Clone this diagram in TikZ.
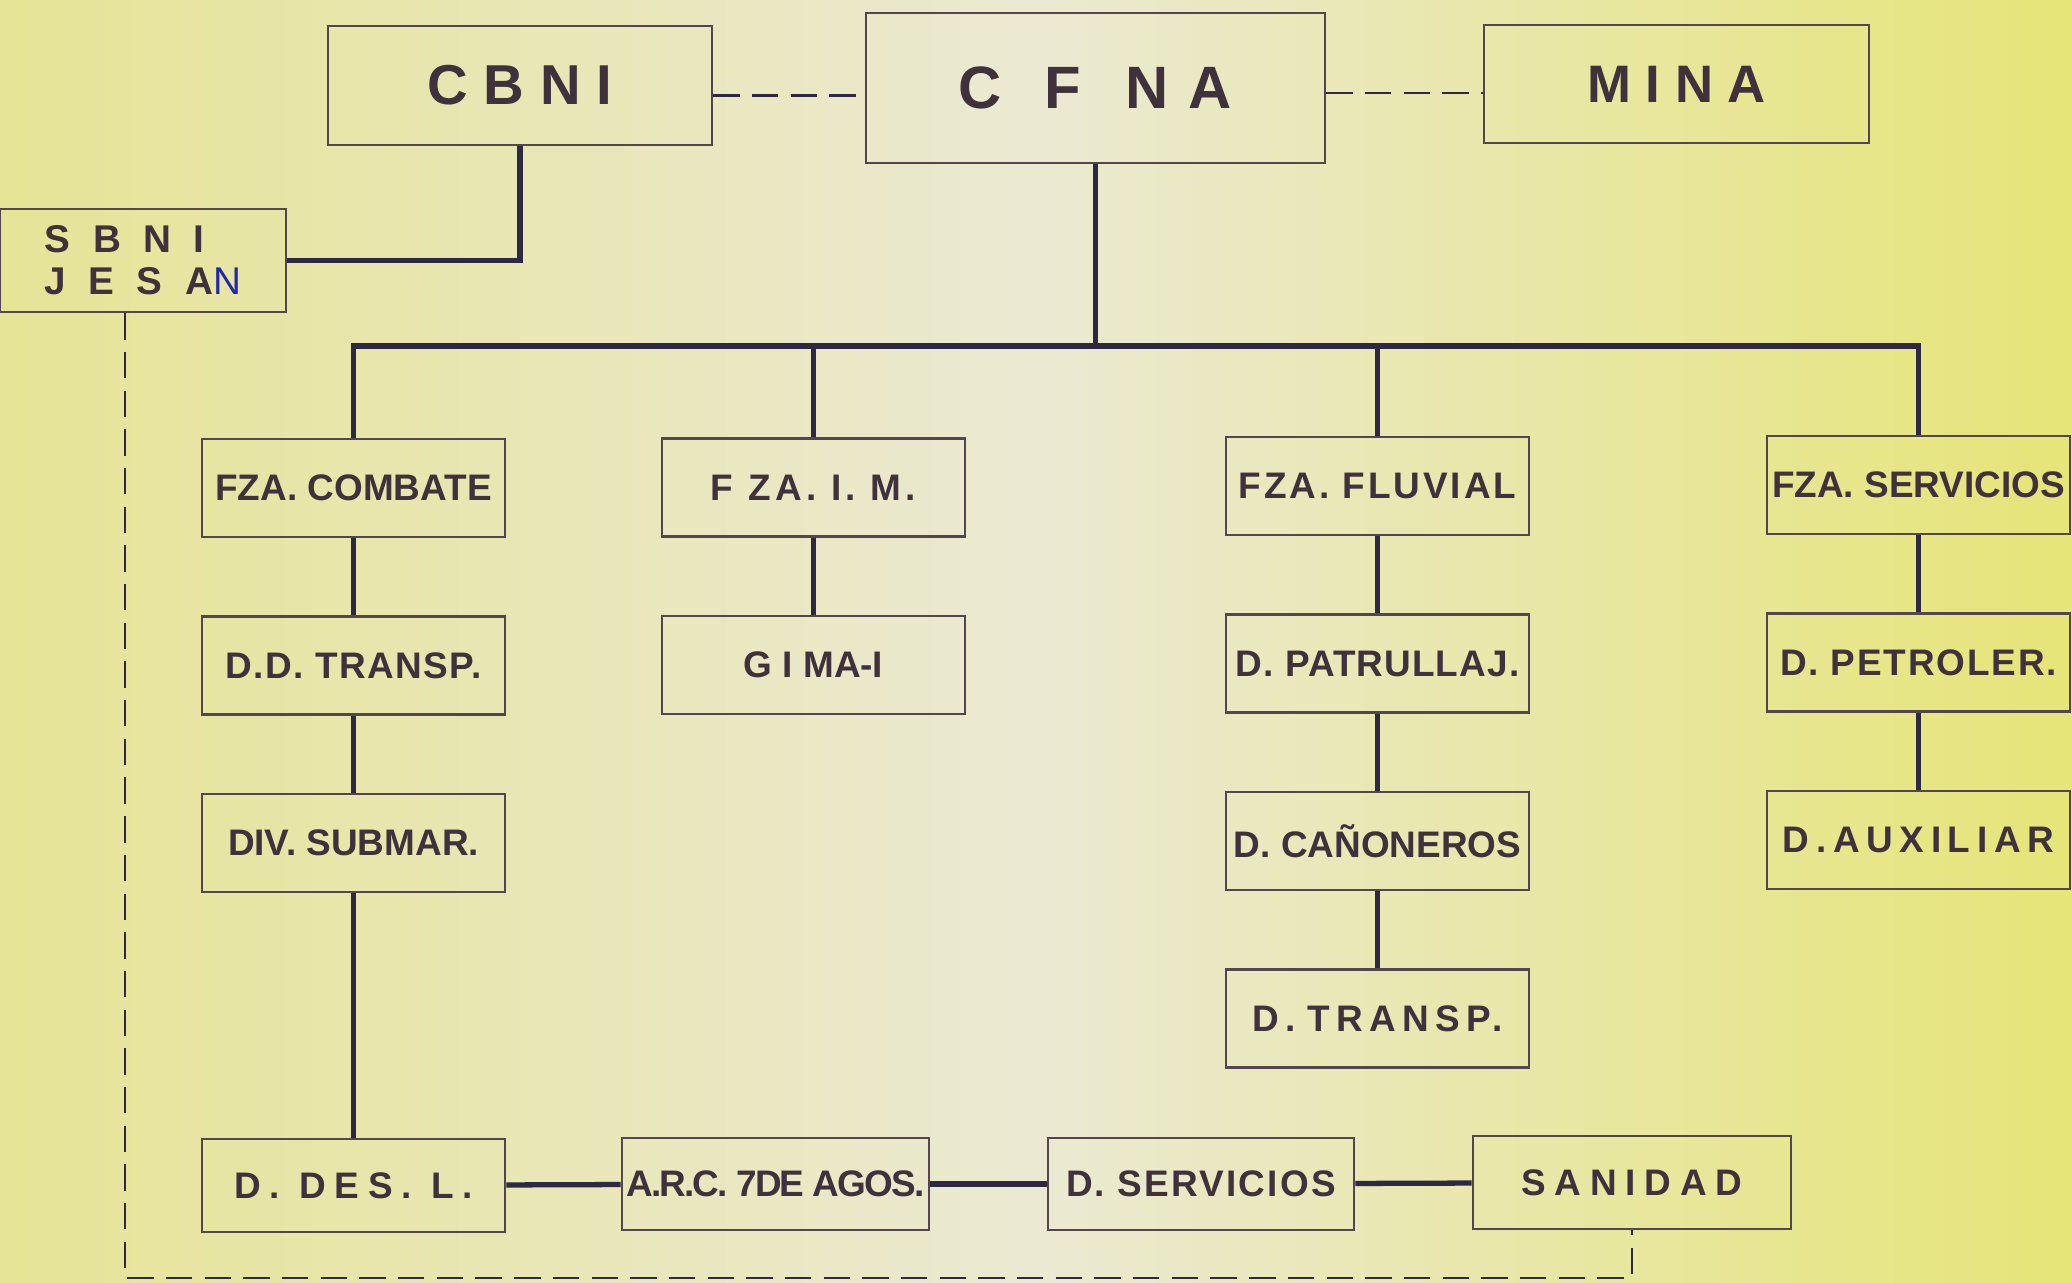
\documentclass[tikz,border=0pt]{standalone}
\usepackage{fontspec}
\setmainfont{Liberation Sans}
\usetikzlibrary{positioning}
\usepackage{xcolor}
\definecolor{paperleft}{RGB}{230,228,150}
\definecolor{papermid}{RGB}{235,233,210}
\definecolor{paperright}{RGB}{230,229,120}
\definecolor{inkline}{RGB}{46,40,66}
\definecolor{inkbox}{RGB}{84,70,78}
\definecolor{inktext}{RGB}{64,50,60}
\definecolor{penblue}{RGB}{38,40,172}
\tikzset{
    orgbox/.style={rectangle, draw=inkbox, line width=0.7pt, inner sep=0pt,
        minimum width=3.03cm, minimum height=0.98cm, align=center, text=inktext,
        font=\bfseries\fontsize{10.5}{12}\selectfont},
    headbox/.style={orgbox, font=\bfseries\fontsize{16}{18}\selectfont},
    link/.style={draw=inkline, line width=1.5pt},
    dashlink/.style={draw=inkline, line width=0.6pt, dash pattern=on 7.5pt off 3.5pt}
}
\newcommand{\spaced}[2]{{\addfontfeature{LetterSpace=#1}#2}}

\begin{document}
\begin{tikzpicture}[x=0.01cm, y=-0.01cm, node distance=0.77cm]

    \shade[left color=paperleft, right color=paperright, middle color=papermid]
        (0,0) rectangle (2072,1283);
    \useasboundingbox (0,0) rectangle (2072,1283);

    % upper level
    \node[headbox, minimum width=3.84cm, minimum height=1.19cm] (cbni) at (520,85.5) {C B N I};
    \node[headbox, minimum width=4.59cm, minimum height=1.50cm, font=\bfseries\fontsize{17}{19}\selectfont] (cfna) at (1095.5,88)
        {C\hspace{0.42cm}F\hspace{0.45cm}N\hspace{0.2cm}A};
    \node[headbox, minimum width=3.85cm, minimum height=1.18cm, font=\bfseries\fontsize{15}{18}\selectfont] (mina) at (1676.5,84) {M I N A};
    \node[orgbox, minimum width=2.86cm, minimum height=1.03cm, align=left,
        font=\bfseries\fontsize{11}{12}\selectfont] (sbni) at (143,260.5)
        {\spaced{30}{S B N I}\\\spaced{30}{J E S A}\textcolor{penblue}{\mdseries N}\hspace{0.12cm}};

    \coordinate (bus) at (1095.5,346);
    \coordinate (loopbottom) at (700,1278);

    % forces
    \node[orgbox] (combate) at (353.5,488) {FZA. COMBATE};
    \node[orgbox, below=of combate] (ddtransp) {\spaced{4}{D.D. TRANSP.}};
    \node[orgbox, below=of ddtransp] (submar) {DIV. SUBMAR.};

    \node[orgbox] (fzaim) at (813.5,487.5) {\spaced{12}{F ZA. I. M.}};
    \node[orgbox, below=of fzaim] (gima) {G I MA-I};

    \node[orgbox] (fluvial) at (1377.5,486) {\spaced{8}{FZA. FLUVIAL}};
    \node[orgbox, below=of fluvial] (patrul) {\spaced{3}{D. PATRULLAJ.}};
    \node[orgbox, below=of patrul] (canon) {D. CAÑONEROS};
    \node[orgbox, below=of canon] (fltransp) {\spaced{17}{D.\hspace{0.12cm}TRANSP.}};

    \node[orgbox] (fzaserv) at (1918.5,485) {FZA. SERVICIOS};
    \node[orgbox, below=of fzaserv] (petrol) {\spaced{5}{D. PETROLER.}};
    \node[orgbox, below=of petrol] (auxil) {\spaced{18}{D.AUXILIAR}};

    % bottom row
    \node[orgbox, minimum height=0.93cm] (desl) at (353.5,1185.5) {\spaced{24}{D. DES. L.}};
    \node[orgbox, minimum width=3.07cm, minimum height=0.92cm] (arc) at (775.5,1184) {\spaced{-5}{A.R.C. 7DE AGOS.}};
    \node[orgbox, minimum width=3.06cm, minimum height=0.92cm] (dserv) at (1201,1184) {\spaced{6}{D. SERVICIOS}};
    \node[orgbox, minimum width=3.18cm, minimum height=0.93cm] (sanidad) at (1632,1182.5) {\spaced{24}{SANIDAD}};

    \draw[dashlink] ([yshift=-0.1cm]cbni.east) -- ([yshift=-0.1cm]cbni.east -| cfna.west);
    \draw[dashlink] ([yshift=-0.05cm]cfna.east) -- ([yshift=-0.05cm]cfna.east -| mina.west);
    \draw[link] (cbni.south) |- (sbni.east);
    \draw[dashlink] ([xshift=-0.18cm]sbni.south) |- (loopbottom) -| (sanidad.south);

    \draw[link] (cfna.south) -- (bus);
    \draw[link] (combate.north) |- (bus) -| (fzaserv.north);
    \draw[link] (fzaim.north) -- (fzaim.north |- bus);
    \draw[link] (fluvial.north) -- (fluvial.north |- bus);

    \draw[link] (combate) -- (ddtransp);
    \draw[link] (ddtransp) -- (submar);
    \draw[link] (submar) -- (desl);
    \draw[link] (fzaim) -- (gima);
    \draw[link] (fluvial) -- (patrul);
    \draw[link] (patrul) -- (canon);
    \draw[link] (canon) -- (fltransp);
    \draw[link] (fzaserv) -- (petrol);
    \draw[link] (petrol) -- (auxil);

    \draw[link] (desl) -- (arc);
    \draw[link] (arc) -- (dserv);
    \draw[link] (dserv) -- (sanidad);

\end{tikzpicture}
\end{document}
